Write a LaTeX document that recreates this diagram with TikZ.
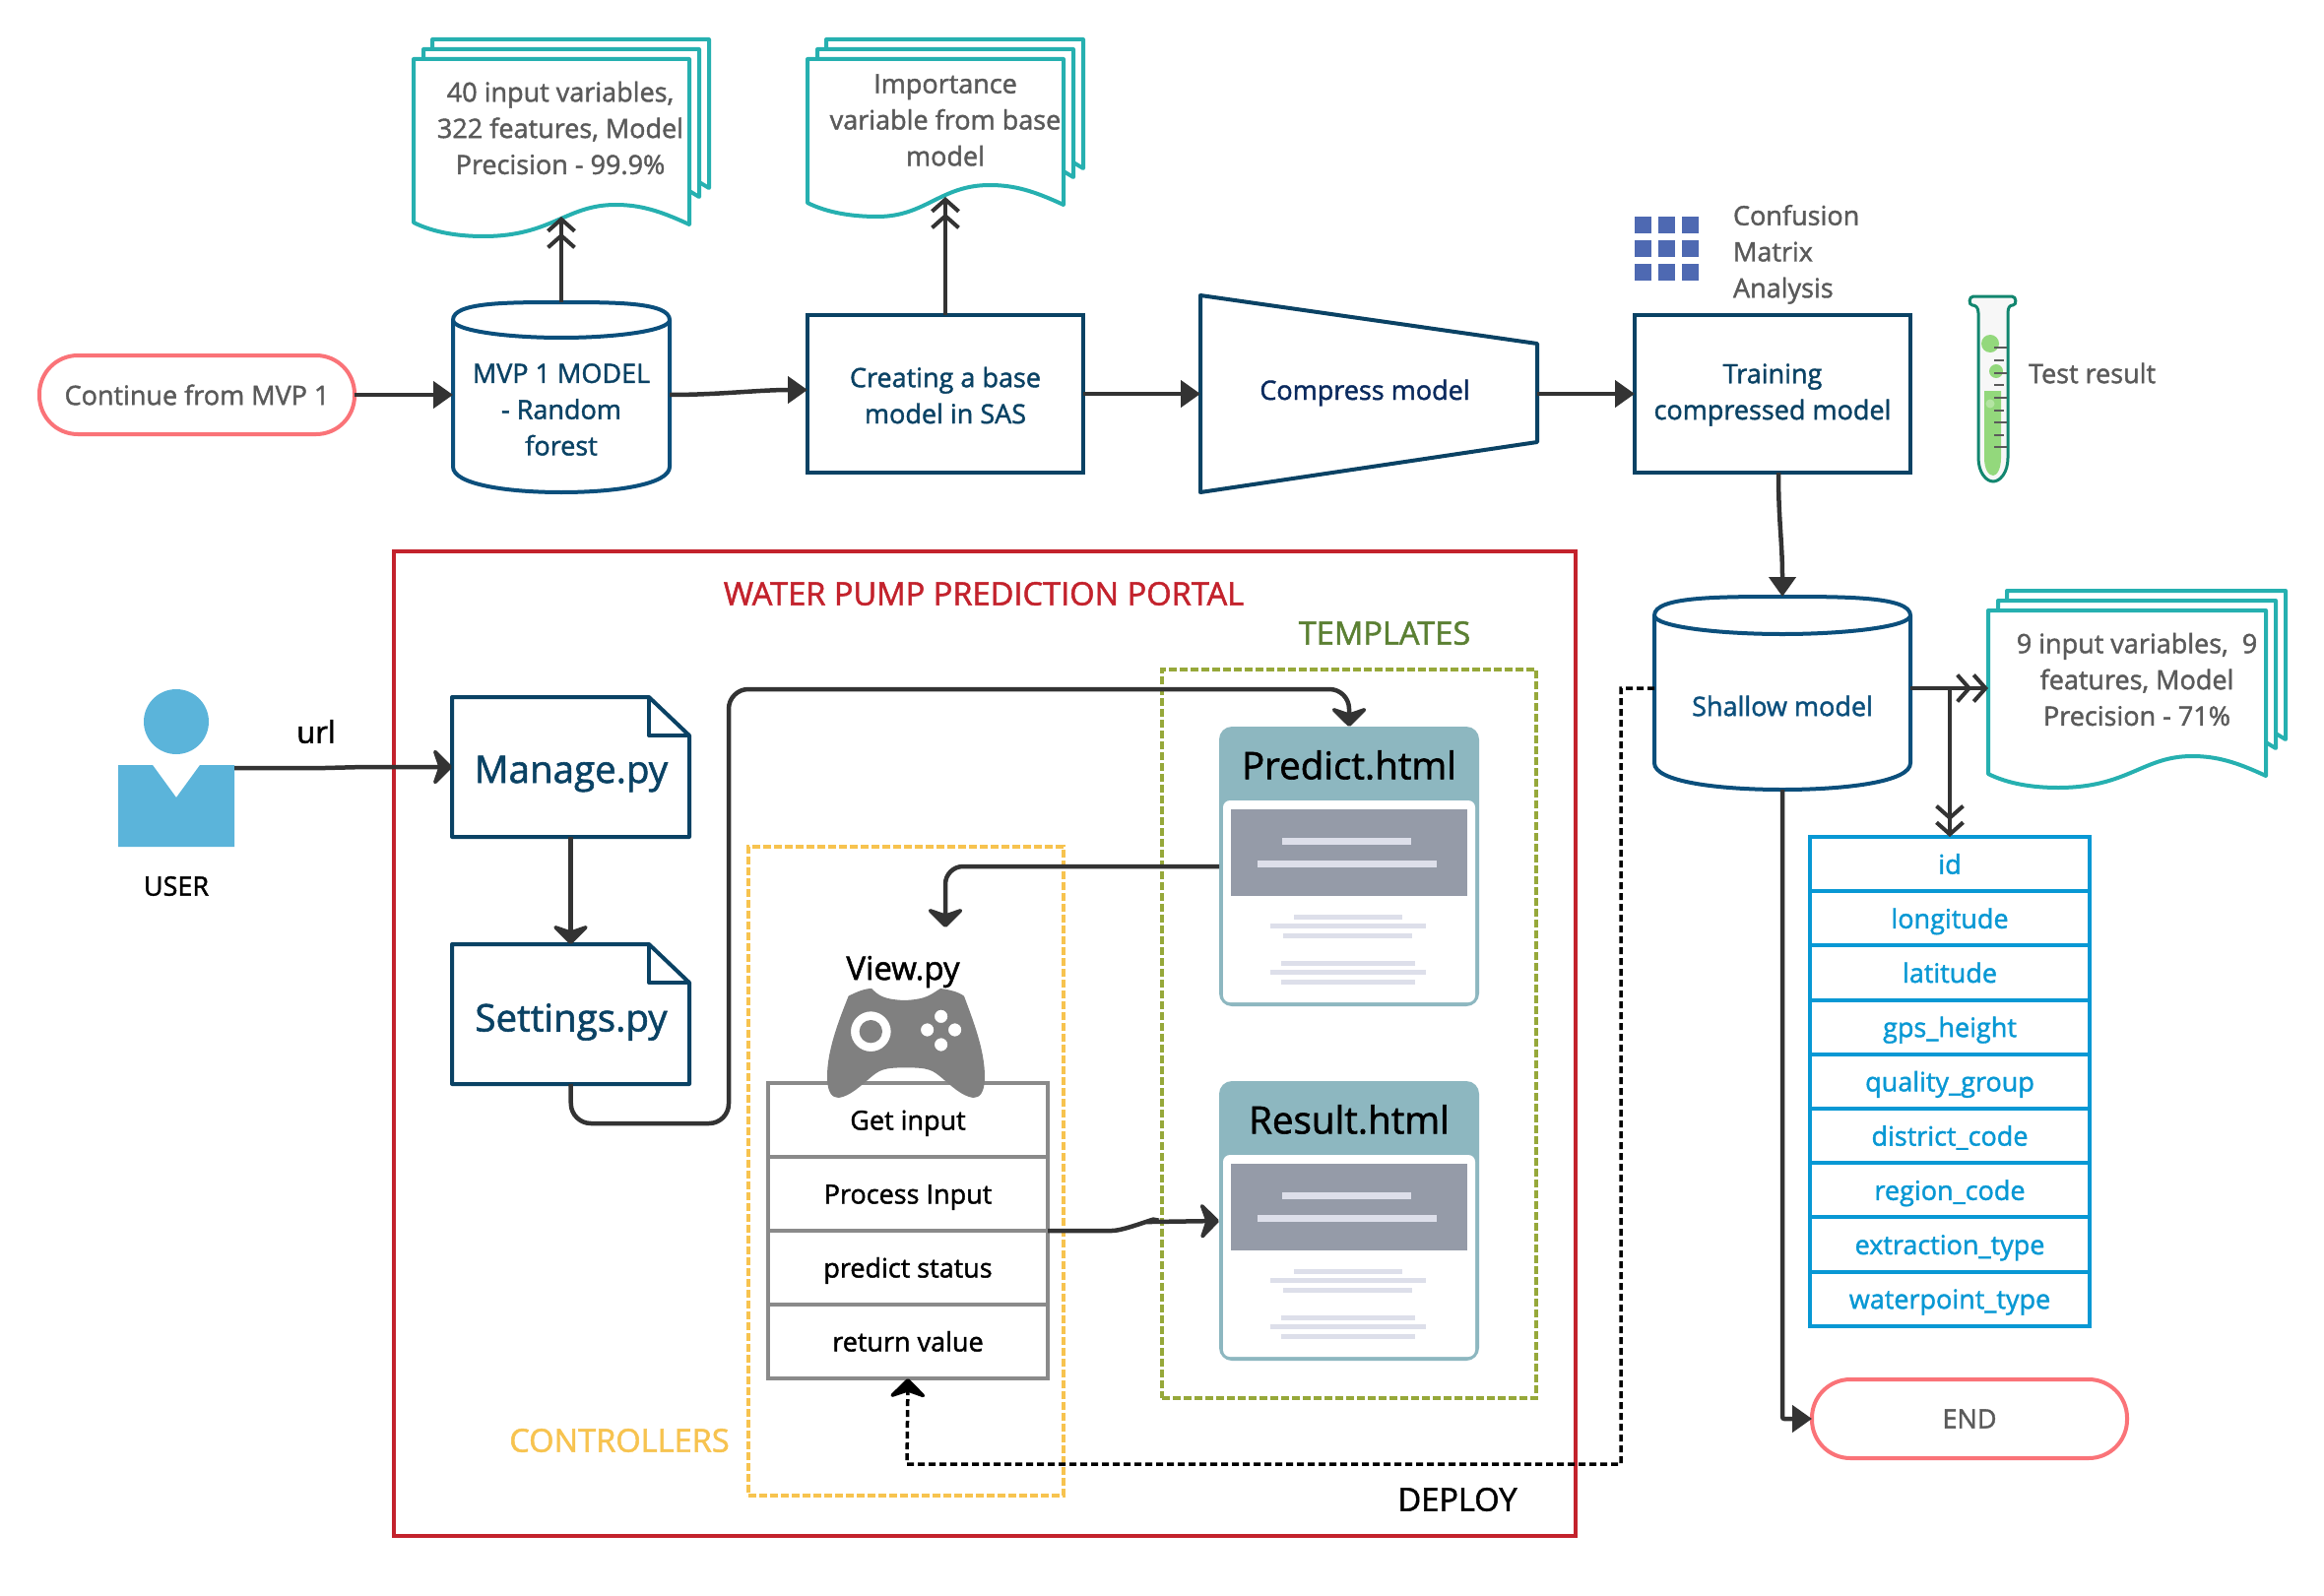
\documentclass[tikz,border=0pt]{standalone}
\usepackage{fontspec}
\setmainfont{Open Sans}[RawFeature={embolden=1.5}]
\usetikzlibrary{arrows.meta,calc}
\definecolor{navy}{HTML}{0A4264}
\definecolor{cylc}{HTML}{0B4F7C}
\definecolor{teal1}{HTML}{26B0B0}
\definecolor{pillc}{HTML}{FA7378}
\definecolor{linec}{HTML}{333333}
\definecolor{greyt}{HTML}{5A5A5A}
\definecolor{redc}{HTML}{C3222C}
\definecolor{tblc}{HTML}{0898D4}
\definecolor{cardc}{HTML}{8DB7C0}
\definecolor{cardg}{HTML}{959BA8}
\definecolor{barl}{HTML}{DDDFEA}
\definecolor{usrc}{HTML}{5BB4DA}
\definecolor{gridc}{HTML}{4E69B2}
\definecolor{tubec}{HTML}{12866F}
\definecolor{tubeg}{HTML}{93D87C}
\definecolor{ctrlc}{HTML}{F7C34F}
\definecolor{tplc}{HTML}{96A83A}
\definecolor{tplt}{HTML}{5B8033}
\definecolor{gryc}{HTML}{8A8A8A}
\definecolor{compt}{HTML}{0A2A5E}
\def\fa{\fontsize{27}{36.8}\selectfont}
\def\fb{\fontsize{38.5}{46}\selectfont}
\def\fd{\fontsize{32.6}{38}\selectfont}
\tikzset{
  x=1pt,y=-1pt,
  every node/.style={inner sep=0pt,outer sep=0pt,align=center},
  ghost/.style={rectangle},
  flowbox/.style={rectangle,draw=navy,line width=4pt,text=navy,font=\fa,fill=white},
  pill/.style={rectangle,rounded corners=39pt,draw=pillc,line width=4pt,text=greyt,font=\fa,fill=white,minimum width=320pt,minimum height=80pt},
  lbl/.style={font=\fa,text=greyt},
  doctext/.style={font=\fa,text=greyt},
  pyname/.style={font=\fb,text=navy},
  rowg/.style={rectangle,draw=gryc,line width=4pt,font=\fa,text=black,minimum width=284pt,minimum height=75pt,fill=white,text height=26pt,text depth=6pt},
  rowb/.style={rectangle,draw=tblc,line width=4pt,font=\fa,text=tblc,minimum width=284pt,minimum height=55.2pt,fill=white,text height=26pt,text depth=6pt},
  conn/.style={draw=linec,line width=4.5pt},
  tri/.style={conn,-{Triangle[length=20pt,width=27pt]}},
  curv/.style={conn,-{Stealth[length=22pt,width=44pt,inset=7.5pt,round]}},
  barb/.style={conn,-{Straight Barb[length=12pt,width=27pt,line width=4pt]Straight Barb[length=12pt,width=27pt,line width=4pt]}},
  page/.style={draw=teal1,line width=4pt,fill=white,line join=round},
  cylline/.style={draw=cylc,line width=4pt,fill=white},
  dashbox/.style={line width=3.5pt,dash pattern=on 8pt off 3pt},
}
\newcommand{\docstack}[5]{% name, x, y, w, h
\begin{scope}[shift={(#2,#3)}]
  \path[page] (19,0) -- (19,-20) -- (#4+20,-20) -- (#4+20,#5-37) -- (#4+10,#5-43) -- cycle;
  \path[page] (10,0) -- (10,-10) -- (#4+10,-10) -- (#4+10,#5-28) -- (#4,#5-34) -- cycle;
  \path[page] (0,0) -- (#4,0) -- (#4,#5)
    .. controls (#4-30,#5-14) and (#4-50,#5-20) .. (#4-75,#5-20)
    .. controls (#4-125,#5-20) and (#4-140,#5+12) .. (71,#5+12)
    .. controls (45,#5+12) and (20,#5+8) .. (0,#5-2) -- cycle;
  \node[ghost,minimum width=#4pt,minimum height=#5pt,anchor=north west] (#1) at (0,0) {};
\end{scope}}
\newcommand{\cyl}[6]{% name, x, y, w, h, ry
\begin{scope}[shift={(#2,#3)}]
  \path[cylline] (0,#6) -- (0,#5-#6-8)
    .. controls (0,#5-8) and (#4*0.25,#5) .. (#4*0.5,#5)
    .. controls (#4*0.75,#5) and (#4,#5-8) .. (#4,#5-#6-8) -- (#4,#6)
    .. controls (#4,0) and (#4*0.75,0) .. (#4*0.5,0)
    .. controls (#4*0.25,0) and (0,0) .. (0,#6) -- cycle;
  \draw[cylline,fill=none] (0,#6) .. controls (0,#6+#6*0.6) and (#4*0.25,#6*2) .. (#4*0.5,#6*2)
    .. controls (#4*0.75,#6*2) and (#4,#6+#6*0.6) .. (#4,#6);
  \node[ghost,minimum width=#4pt,minimum height=#5pt,anchor=north west] (#1) at (0,0) {};
\end{scope}}
\newcommand{\pyfile}[4]{% name, y, text, text y
\begin{scope}[shift={(459,#2)}]
  \node[ghost,minimum width=241pt,minimum height=142pt,anchor=north west] (#1) at (0,0) {};
  \draw[draw=navy,line width=4pt,line join=round,fill=white] (0,0) -- (200,0) -- (241,39) -- (241,142) -- (0,142) -- cycle;
  \draw[draw=navy,line width=4pt,line join=round] (200,0) -- (200,39) -- (241,39);
  \node[pyname] (#1t) at (121,#4) {#3};
\end{scope}}
\newcommand{\htmlcard}[3]{% name, y, title
\begin{scope}[shift={(1238,#2)}]
  \node[rectangle,rounded corners=13pt,fill=cardc,minimum width=264pt,minimum height=284pt,anchor=north west] (#1) at (0,0) {};
  \fill[white,rounded corners=7pt] (4,75) rectangle (260,280);
  \fill[cardg] (12,84) rectangle (252,172);
  \fill[barl] (64,113) rectangle (195,120);
  \fill[barl] (39,136) rectangle (221,143);
  \foreach \xa/\xb/\ya in {76/186/193,52/210/202,65/196/212,63/199/240,52/210/249,63/199/259}
    \fill[barl] (\xa,\ya-2.5) rectangle (\xb,\ya+2.5);
  \node[font=\fb,text=black] (#1t) at (132,39) {#3};
\end{scope}}
\begin{document}
\begin{tikzpicture}
\useasboundingbox[fill=white] (0,0) rectangle (2360,1621);

% portal and groups
\node[rectangle,draw=redc,line width=4pt,minimum width=1200pt,minimum height=1000pt,anchor=north west] (portal) at (400,560) {};
\node[rectangle,draw=tplc,dashbox,minimum width=380pt,minimum height=740pt,anchor=north west] (tplbox) at (1180,680) {};
\node[rectangle,draw=ctrlc,dashbox,minimum width=320pt,minimum height=659pt,anchor=north west] (ctrlbox) at (760,860) {};
\node[font=\fd,text=redc] (portalt) at (999,603) {WATER PUMP PREDICTION PORTAL};
\node[font=\fd,text=tplt] (tplt) at (1406,643) {TEMPLATES};
\node[font=\fd,text=ctrlc] (ctrlt) at (629,1463) {CONTROLLERS};
\node[font=\fd,text=black] (deploy) at (1480,1523) {DEPLOY};

% top row
\node[pill] (start) at (200,401) {Continue from MVP 1};
\cyl{mvp}{460}{307}{220}{193}{18}
\node[font=\fa,text=navy] (mvpt) at (570,416) {MVP 1 MODEL\\- Random\\forest};
\node[flowbox,minimum width=280pt,minimum height=160pt,text depth=0pt] (base) at (960,400) {};
\node[font=\fa,text=navy] (baset) at (960,401.5) {Creating a base\\model in SAS};
\path[draw=navy,line width=4pt,fill=white,line join=round] (1219,300) -- (1561,349) -- (1561,449) -- (1219,500) -- cycle;
\node[ghost,minimum width=342pt,minimum height=200pt,anchor=north west] (compress) at (1219,300) {};
\node[font=\fa,text=compt] (compresst) at (1386,399) {Compress model};
\node[flowbox,minimum width=280pt,minimum height=160pt] (train) at (1800,400) {};
\node[font=\fa,text=navy] (traint) at (1800,401) {Training\\compressed model};

\docstack{docA}{420}{60}{280}{168}
\node[doctext] (docAt) at (569,130) {40 input variables,\\322 features, Model\\Precision - 99.9\%};
\docstack{docB}{820}{60}{260}{148}
\node[doctext] (docBt) at (960,122) {Importance\\variable from base\\model};
\docstack{docC}{2019}{620}{282}{168}
\node[doctext] (docCt) at (2170,690) {9 input variables,\ \ 9\\features, Model\\Precision - 71\%};

% confusion grid
\foreach \gx in {1660,1684,1708}
  \foreach \gy in {220,244,268}
    \fill[gridc] (\gx,\gy) rectangle (\gx+17,\gy+17);
\node[lbl,align=left,anchor=north west] (conf) at (1760,208) {Confusion\\Matrix\\Analysis};

% test tube
\path[draw=tubec,line width=3pt,fill=white!97!black]
  (2009,465) -- (2009,318) .. controls (2009,312) and (2006,310) .. (2003,310)
  .. controls (1999,310) and (1999,301) .. (2004,301) -- (2043,301)
  .. controls (2048,301) and (2048,310) .. (2044,310)
  .. controls (2041,310) and (2039,312) .. (2039,318) -- (2039,465)
  .. controls (2039,480) and (2031,489) .. (2024,489)
  .. controls (2017,489) and (2009,480) .. (2009,465) -- cycle;
\fill[tubeg] (2015,397) -- (2032,397) -- (2032,465) .. controls (2032,476) and (2028,483) .. (2024,483)
  .. controls (2019,483) and (2015,476) .. (2015,465) -- cycle;
\fill[tubeg] (2021,349) circle (9);
\fill[tubeg] (2027,377) circle (7);
\fill[tubeg!70!white] (2021,410) circle (4.5);
\foreach \ty/\tx in {353/2038,366/2035,379/2038,391/2035,404/2038,417/2035,429/2038,442/2035,454/2038}
  \draw[greyt,line width=2.5pt] (2025,\ty) -- (\tx,\ty);
\node[lbl,anchor=west] (testr) at (2060,379) {Test result};

% shallow
\cyl{shallow}{1680}{606}{260}{196}{19}
\node[font=\fa,text=cylc] (shallowt) at (1810,717) {Shallow model};

% table
\node[rowb,anchor=north west] (t1) at (1838,850) {id};
\foreach \nm/\pv/\tx in {t2/t1/longitude,t3/t2/latitude,t4/t3/gps\_height,t5/t4/quality\_group,t6/t5/district\_code,t7/t6/region\_code,t8/t7/extraction\_type,t9/t8/waterpoint\_type}
  \node[rowb,anchor=north] (\nm) at (\pv.south) {\tx};
\node[pill,text=greyt] (end) at (2000,1441) {END};

% user
\fill[usrc] (179,733) circle (33);
\fill[usrc] (120,777) -- (155,777) -- (179,810) -- (203,777) -- (238,777) -- (238,860) -- (120,860) -- cycle;
\node[ghost,minimum width=118pt,minimum height=83pt,anchor=north west] (user) at (120,777) {};
\node[font=\fa,text=black] (usert) at (179,900) {USER};
\node[font=\fontsize{31}{36}\selectfont,text=black] (urlt) at (321,743) {url};

% py files
\pyfile{manage}{708}{Manage.py}{78}
\pyfile{settings}{959}{Settings.py}{79}

% view
\node[font=\fontsize{33}{38}\selectfont,text=black] (viewt) at (917,987) {View.py};
\node[rowg,anchor=north west] (r1) at (780,1100) {Get input};
\node[rowg,anchor=north] (r2) at (r1.south) {Process Input};
\node[rowg,anchor=north] (r3) at (r2.south) {predict status};
\node[rowg,anchor=north] (r4) at (r3.south) {return value};
\begin{scope}[shift={(780,900)},x=0.3333pt,y=-0.3333pt]
  \fill[gray,even odd rule]
    (245,335) .. controls (270,322) and (295,312) .. (315,312)
    .. controls (335,330) and (345,345) .. (415,348)
    .. controls (485,345) and (495,330) .. (525,312)
    .. controls (550,315) and (580,322) .. (597,335)
    .. controls (625,410) and (660,500) .. (660,580)
    .. controls (660,630) and (645,645) .. (625,645)
    .. controls (590,640) and (560,610) .. (530,585)
    .. controls (500,560) and (490,553) .. (420,553)
    .. controls (350,553) and (340,560) .. (310,585)
    .. controls (280,610) and (250,640) .. (215,645)
    .. controls (195,645) and (180,630) .. (180,580)
    .. controls (180,500) and (215,410) .. (245,335) -- cycle
    (313,443) circle (61) (313,443) circle (35)
    (527,397) circle (20) (485,438) circle (20) (569,438) circle (20) (527,483) circle (20);
\end{scope}

% cards
\htmlcard{predict}{738}{Predict.html}
\htmlcard{result}{1098}{Result.html}

% connectors
\coordinate (mvpOut) at (mvp.east |- start.east);
\draw[tri] (start.east) -- (start.east -| mvp.west);
\coordinate (baseIn) at ($(base.west)+(0,-4)$);
\draw[tri] (mvpOut) .. controls ($(mvpOut)+(50,0)$) and ($(baseIn)+(-50,0)$) .. (baseIn);
\draw[tri] (base.east) -- (base.east -| compress.west);
\draw[tri] (compress.east |- train.west) -- (train.west);
\coordinate (docAin) at (570,220);
\coordinate (docBin) at (960,200);
\draw[barb] (mvp.north) -- (docAin);
\draw[barb] (base.north) -- (docBin);
\coordinate (trainOut) at (1806,480);
\draw[tri] (trainOut) .. controls (1806,530) and (1810,550) .. (shallow.north);
\coordinate (shR) at (1940,699);
\coordinate (shL) at (1680,699);
\coordinate (branch) at (1980,699);
\draw[barb] (shR) -- (shR -| docC.west);
\draw[barb] (branch) -- (branch |- t1.north);
\draw[conn,rounded corners=2pt,-{Triangle[length=20pt,width=27pt]}] (shallow.south) -- (shallow.south |- end.west) -- (end.west);
\draw[draw=black,line width=3.5pt,dash pattern=on 7pt off 4pt,-{Stealth[length=22pt,width=44pt,inset=7.5pt,round]}]
  (shL) -- (1646,699) -- (1646,1487) -- (921,1487) -- (r4.south);
\coordinate (userOut) at (238,780);
\draw[curv] (userOut) -- ++(92,0) .. controls ++(20,0) and ++(-20,0) .. ++(40,-1) -- (manage.west);
\draw[curv] (manage.south) -- (settings.north);
\draw[curv,rounded corners=20pt] (settings.south) -- (580,1141) -- (740,1141) -- (740,700) -- (1370,700) -- (predict.north);
\draw[curv,rounded corners=18pt] (predict.west) -- (960,880) -- (960,942);
\coordinate (procOut) at (r2.south east);
\draw[curv] (procOut) -- ++(65,0) .. controls ++(15,0) and ++(15,-9) .. ++(40,-9) -- (result.west);
\end{tikzpicture}
\end{document}
